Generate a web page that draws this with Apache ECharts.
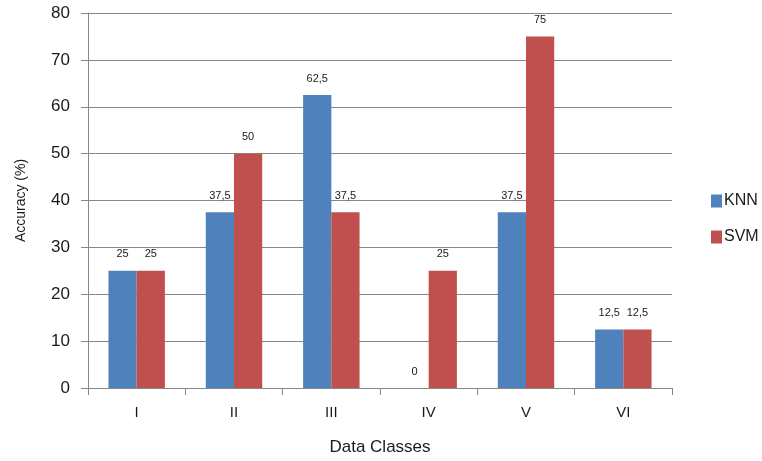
<!DOCTYPE html>
<html>
<head>
<meta charset="utf-8">
<script src="https://cdn.jsdelivr.net/npm/echarts@6/dist/echarts.min.js"></script>
<style>
  html, body { margin: 0; padding: 0; background: #ffffff; }
  #chart { width: 762px; height: 461px; }
</style>
</head>
<body>
<div id="chart"></div>
<script>
// Accuracy per data class for the two classifiers
const categories = ['I', 'II', 'III', 'IV', 'V', 'VI'];
const knnValues = [25, 37.5, 62.5, 0, 37.5, 12.5];
const svmValues = [25, 50, 37.5, 25, 75, 12.5];
const yTicks = { min: 0, max: 80, interval: 10 };

const FONT = '"Liberation Sans", Arial, sans-serif';
const TEXT = '#1a1a1a';
const fmt = v => String(v).replace('.', ',');

const valueLabel = {
  show: true,
  position: 'top',
  distance: 11,
  fontFamily: FONT,
  fontSize: 11,
  color: TEXT,
  formatter: p => fmt(p.value)
};

const chart = echarts.init(document.getElementById('chart'));
chart.setOption({
  animation: false,
  backgroundColor: '#ffffff',
  grid: { left: 88, right: 90, top: 13, bottom: 73, containLabel: false },
  legend: {
    orient: 'vertical',
    left: 706,
    top: 188,
    itemWidth: 11,
    itemHeight: 13,
    itemGap: 20,
    icon: 'rect',
    textStyle: { fontFamily: FONT, fontSize: 16, color: TEXT, padding: [0, 0, 0, -3] },
    data: ['KNN', 'SVM']
  },
  xAxis: {
    type: 'category',
    data: categories,
    name: 'Data Classes',
    nameLocation: 'middle',
    nameGap: 51,
    nameTextStyle: { fontFamily: FONT, fontSize: 17, color: TEXT },
    axisLine: { lineStyle: { color: '#868686', width: 1 } },
    axisTick: { show: true, length: 7, alignWithLabel: false, lineStyle: { color: '#868686' } },
    axisLabel: { fontFamily: FONT, fontSize: 15, color: TEXT, margin: 17 }
  },
  yAxis: {
    type: 'value',
    min: yTicks.min,
    max: yTicks.max,
    interval: yTicks.interval,
    name: 'Accuracy (%)',
    nameLocation: 'middle',
    nameGap: 60,
    nameTextStyle: { fontFamily: FONT, fontSize: 14, color: TEXT },
    axisLine: { show: true, lineStyle: { color: '#868686', width: 1 } },
    axisTick: { show: true, length: 7, lineStyle: { color: '#868686' } },
    axisLabel: { fontFamily: FONT, fontSize: 17, color: TEXT, margin: 18 },
    splitLine: { lineStyle: { color: '#868686', width: 1 } }
  },
  series: [
    {
      name: 'KNN',
      type: 'bar',
      data: knnValues,
      barGap: '0%',
      barCategoryGap: '42%',
      itemStyle: { color: '#4F81BD' },
      label: valueLabel
    },
    {
      name: 'SVM',
      type: 'bar',
      data: svmValues,
      barGap: '0%',
      barCategoryGap: '42%',
      itemStyle: { color: '#C0504D' },
      label: valueLabel
    }
  ]
});
</script>
</body>
</html>
